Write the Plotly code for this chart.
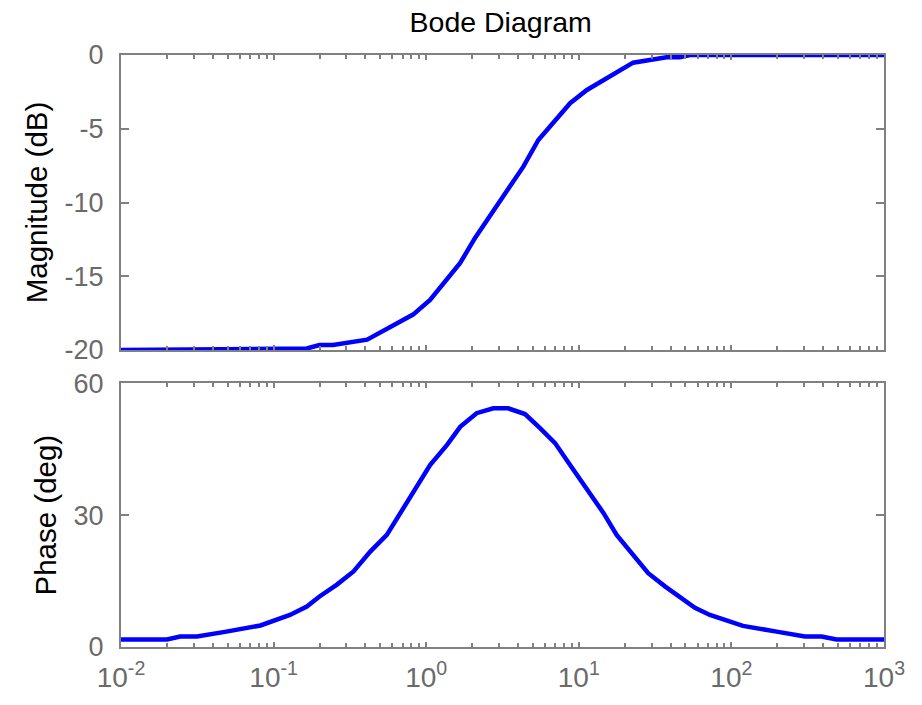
import plotly.graph_objects as go
from plotly.subplots import make_subplots

# ---- data ----
mag_freq = [0.01, 0.165, 0.20, 0.245, 0.41, 0.55, 0.82, 1.06, 1.67, 2.09, 3.05,
            4.33, 5.43, 8.77, 11.3, 14.5, 22.7, 37.6, 46.0, 53.5, 1000]
mag_db = [-20.0, -19.9, -19.66, -19.66, -19.3, -18.6, -17.6, -16.6, -14.1, -12.4, -9.95,
          -7.57, -5.76, -3.27, -2.37, -1.69, -0.52, -0.16, -0.16, 0.0, 0.0]

phase_freq = [0.01, 0.02, 0.0244, 0.0315, 0.049, 0.082, 0.128, 0.165, 0.20, 0.26, 0.334,
              0.43, 0.552, 0.71, 1.06, 1.37, 1.67, 2.14, 2.75, 3.45, 4.44, 5.57, 6.99,
              8.77, 14.5, 17.7, 28.5, 36.7, 46.0, 57.7, 72.3, 119, 198, 303, 390, 489, 1000]
phase_deg = [1.7, 1.7, 2.4, 2.4, 3.5, 4.9, 7.3, 9.2, 11.5, 14.2, 17.2,
             21.7, 25.5, 31.6, 41.4, 46.0, 50.1, 53.2, 54.3, 54.3, 53.0, 49.8, 46.4,
             41.4, 30.5, 25.5, 16.8, 13.8, 11.5, 8.9, 7.3, 4.8, 3.5, 2.4, 2.4, 1.7, 1.7]

x_tickvals = [0.01, 0.1, 1, 10, 100, 1000]
x_ticktext = ["10<sup>-2</sup>", "10<sup>-1</sup>", "10<sup>0</sup>",
              "10<sup>1</sup>", "10<sup>2</sup>", "10<sup>3</sup>"]
x_minor = [k * 10 ** n for n in range(-2, 3) for k in range(2, 10)]
mag_ticks = [0, -5, -10, -15, -20]
mag_ticktext = ["0", "-5", "-10", "-15", "-20"]
phase_ticks = [0, 30, 60]
phase_ticktext = ["0", "30", "60"]

title = "Bode Diagram"
mag_label = "Magnitude (dB)"
phase_label = "Phase (deg)"

# ---- figure ----
AX = "#808080"
FAM = "Liberation Sans, Arial, sans-serif"
TICKFONT = dict(family=FAM, size=27, color="#6a6a6a")
XTICKFONT = dict(family=FAM, size=28, color="#6a6a6a")
AXTITLEFONT = dict(family=FAM, size=29.5, color="#000000")
TITLEFONT = dict(family=FAM, size=28.5, color="#000000")

fig = make_subplots(rows=2, cols=1, shared_xaxes=False, vertical_spacing=0.05)

fig.add_trace(go.Scatter(x=mag_freq, y=mag_db, mode="lines",
                         line=dict(color="#0000ff", width=4.5), showlegend=False),
              row=1, col=1)
fig.add_trace(go.Scatter(x=phase_freq, y=phase_deg, mode="lines",
                         line=dict(color="#0000ff", width=4.5), showlegend=False),
              row=2, col=1)

common_x = dict(type="log", range=[-2, 3], showgrid=False, zeroline=False,
                showline=True, linecolor=AX, linewidth=2, mirror="ticks",
                ticks="inside", ticklen=5, tickcolor=AX, tickwidth=2,
                tickmode="array", tickvals=x_tickvals, ticktext=x_ticktext,
                minor=dict(ticks="inside", ticklen=4, tickcolor=AX, tickwidth=2,
                           tickmode="array", tickvals=x_minor, showgrid=False),
                tickfont=XTICKFONT, ticklabelstandoff=4)
fig.update_xaxes(**common_x)
fig.update_xaxes(showticklabels=False, row=1, col=1)

common_y = dict(showgrid=False, zeroline=False, showline=True, linecolor=AX,
                linewidth=2, mirror="ticks", ticks="inside", ticklen=8,
                tickcolor=AX, tickwidth=2, tickfont=TICKFONT,
                ticklabelstandoff=10, title_font=AXTITLEFONT)
fig.update_yaxes(**common_y)
fig.update_yaxes(range=[-20, 0], tickvals=mag_ticks, ticktext=mag_ticktext,
                 title_text=mag_label, title_standoff=8, row=1, col=1)
fig.update_yaxes(range=[0, 60], tickvals=phase_ticks, ticktext=phase_ticktext,
                 title_text=phase_label, title_standoff=8, row=2, col=1)

fig.update_layout(
    width=922, height=705,
    margin=dict(l=121, r=38, t=55, b=58),
    paper_bgcolor="white", plot_bgcolor="white",
    title=dict(text=title, x=0.543, xanchor="center", y=1 - 22 / 705,
               yanchor="middle", yref="container", font=TITLEFONT),
    xaxis=dict(domain=[0, 1]), xaxis2=dict(domain=[0, 1]),
    yaxis=dict(domain=[0.5017, 1.0]),
    yaxis2=dict(domain=[0.0, 0.4454]),
)

# remove the browser's default 8 px body margin so the figure sits at the page corner
fig.write_html("out.html", config={"displayModeBar": False},
               post_script="document.body.style.margin='0';")
